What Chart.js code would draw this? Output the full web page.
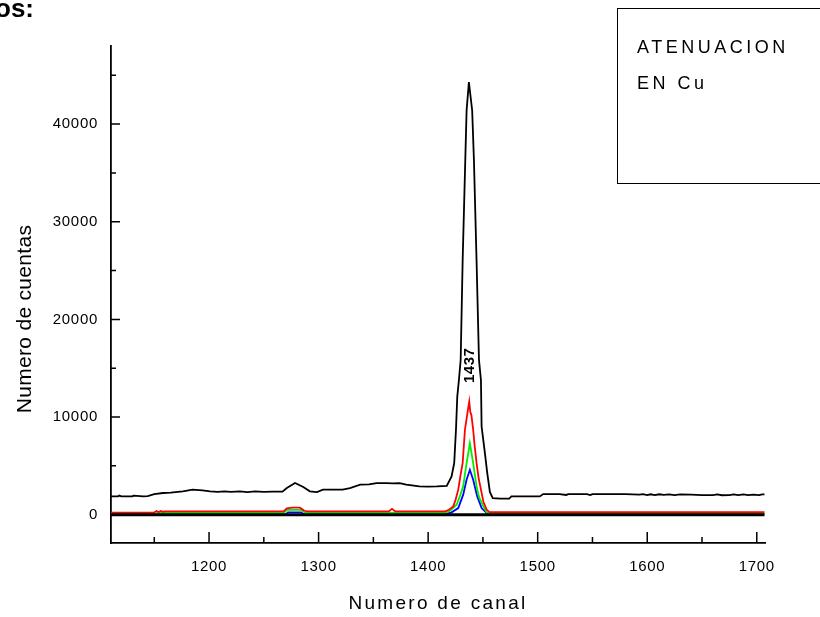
<!DOCTYPE html>
<html>
<head>
<meta charset="utf-8">
<script src="https://cdn.jsdelivr.net/npm/chart.js@4.4.1/dist/chart.umd.min.js"></script>
<style>
body { margin: 0; background: #fff; width: 820px; height: 617px; overflow: hidden; position: relative; font-family: Arial, "Liberation Sans", sans-serif; }
#chart { position: absolute; left: 0; top: 0; }
.head { position: absolute; right: 786px; top: -5px; font: bold 26px Arial, "Liberation Sans", sans-serif; line-height: 1; white-space: nowrap; }
.box { position: absolute; left: 617px; top: 8px; width: 240px; height: 174px; border: 1.5px solid #000; }
.boxtext { position: absolute; left: 637px; top: 29px; font-size: 18px; line-height: 36px; letter-spacing: 3.5px; white-space: nowrap; }
</style>
</head>
<body>
<canvas id="chart" width="820" height="617"></canvas>
<div class="head">os:</div>
<div class="box"></div>
<div class="boxtext">ATENUACION<br>EN Cu</div>
<script>
// spectra (channel, counts)
const blackCh = [1110, 1117, 1118, 1120, 1130, 1131, 1140, 1144, 1150, 1158, 1165, 1176, 1185, 1194, 1201, 1208, 1214, 1220, 1228, 1235, 1242, 1250, 1258, 1267, 1271, 1278.5, 1286, 1292, 1298.5, 1304, 1314, 1322, 1328.6, 1338, 1346, 1353, 1362, 1368, 1374, 1380, 1392, 1400, 1408, 1417, 1421.4, 1423.8, 1425.4, 1426.6, 1428.1, 1429.7, 1431.5, 1433.9, 1435.1, 1437.2, 1440.2, 1441.8, 1444.2, 1446.4, 1448.2, 1448.8, 1451.8, 1453.9, 1456.4, 1459, 1466, 1474, 1476, 1490, 1502, 1505, 1520, 1526, 1528, 1545, 1548, 1550, 1580, 1593, 1596, 1600, 1603, 1607, 1611, 1615, 1620, 1625, 1630, 1640, 1650, 1660, 1664, 1668, 1675, 1679, 1683, 1688, 1692, 1697, 1702, 1705, 1707];
const blackCounts = [1870, 1880, 1960, 1870, 1880, 1950, 1880, 1900, 2115, 2220, 2250, 2390, 2560, 2490, 2380, 2330, 2390, 2340, 2380, 2320, 2390, 2330, 2370, 2360, 2730, 3240, 2830, 2390, 2320, 2560, 2560, 2560, 2730, 3070, 3100, 3240, 3240, 3200, 3240, 3070, 2900, 2880, 2900, 2950, 3920, 5290, 8700, 12100, 13800, 15860, 26000, 36300, 41400, 44300, 41400, 36300, 26000, 15860, 13800, 9030, 6340, 4300, 2300, 1700, 1640, 1650, 1870, 1880, 1870, 2110, 2110, 2020, 2110, 2110, 2000, 2110, 2110, 2050, 2110, 2000, 2090, 2000, 2090, 2030, 2080, 2000, 2070, 2050, 2000, 2000, 2070, 1990, 2000, 2070, 2000, 2070, 2000, 2060, 2000, 2080, 2090];

const redCh = [1110, 1150, 1152, 1154, 1156, 1158, 1160, 1268, 1271, 1276, 1283, 1287, 1290, 1364, 1367, 1370, 1410, 1415.3, 1419, 1422.9, 1425, 1427.5, 1429.5, 1431.5, 1433.6, 1436, 1437.5, 1438.5, 1439.5, 1441.1, 1442.5, 1444.2, 1446, 1448.2, 1450.5, 1453.4, 1456, 1707];
const redCounts = [220, 220, 380, 280, 380, 300, 330, 330, 650, 720, 720, 400, 330, 330, 600, 330, 330, 340, 500, 850, 1500, 2560, 4000, 5290, 8700, 10500, 11590, 10500, 10200, 8700, 7000, 5300, 3800, 2560, 1300, 510, 260, 260];

const greenCh = [1110, 1151, 1153, 1268, 1271, 1284, 1288, 1415, 1419.9, 1426, 1429, 1432, 1435.1, 1438.1, 1441.1, 1444.2, 1446.5, 1449.7, 1453.4, 1456, 1707];
const greenCounts = [60, 60, 170, 170, 500, 500, 180, 200, 410, 1020, 1900, 2900, 5290, 7330, 5290, 2900, 1800, 1000, 240, 110, 110];

const blueCh = [1110, 1270, 1272, 1284, 1287, 1415, 1421.4, 1427.5, 1432, 1435.1, 1438.1, 1441.1, 1444.8, 1448.8, 1453.4, 1456, 1707];
const blueCounts = [20, 20, 240, 240, 20, 30, 240, 680, 2050, 3580, 4600, 3580, 1870, 680, 170, 30, 30];

const zeroCh = [1110, 1707];
const zeroCounts = [0, 0];

// axis ticks
const xMajorTicks = [1200, 1300, 1400, 1500, 1600, 1700];
const xMinorTicks = [1150, 1250, 1350, 1450, 1550, 1650];
const yMajorTicks = [0, 10000, 20000, 30000, 40000];
const yMinorTicks = [5000, 15000, 25000, 35000, 45000];

const peakLabel = '1437';
const peakLabelCh = 1437;
const peakLabelCounts = 15300;

const xTitle = 'Numero de canal';
const yTitle = 'Numero de cuentas';

function points(xs, ys) {
    return xs.map((v, i) => ({ x: v, y: ys[i] }));
}

function series(xs, ys, color, width) {
    return {
        data: points(xs, ys),
        borderColor: color,
        borderWidth: width,
        pointRadius: 0,
        tension: 0,
        fill: false,
    };
}

const extras = {
    id: 'extras',
    beforeUpdate(chart) {
        chart.ctx.letterSpacing = '0.7px';
    },
    beforeDraw(chart) {
        chart.ctx.letterSpacing = '0.7px';
    },
    afterDraw(chart) {
        const { ctx, chartArea, scales: { x, y } } = chart;
        ctx.save();
        ctx.strokeStyle = '#000';
        ctx.lineWidth = 1.5;
        ctx.beginPath();
        // inward tick marks
        xMajorTicks.forEach(v => {
            const px = x.getPixelForValue(v);
            ctx.moveTo(px, chartArea.bottom);
            ctx.lineTo(px, chartArea.bottom - 11);
        });
        xMinorTicks.forEach(v => {
            const px = x.getPixelForValue(v);
            ctx.moveTo(px, chartArea.bottom);
            ctx.lineTo(px, chartArea.bottom - 6);
        });
        yMajorTicks.forEach(v => {
            const py = y.getPixelForValue(v);
            ctx.moveTo(chartArea.left, py);
            ctx.lineTo(chartArea.left + 9, py);
        });
        yMinorTicks.forEach(v => {
            const py = y.getPixelForValue(v);
            ctx.moveTo(chartArea.left, py);
            ctx.lineTo(chartArea.left + 5, py);
        });
        ctx.stroke();

        // peak label, rotated
        ctx.fillStyle = '#000';
        ctx.font = 'bold 15px Arial, "Liberation Sans", sans-serif';
        ctx.letterSpacing = '0.5px';
        ctx.textAlign = 'center';
        ctx.textBaseline = 'middle';
        ctx.translate(x.getPixelForValue(peakLabelCh) + 1, y.getPixelForValue(peakLabelCounts));
        ctx.rotate(-Math.PI / 2);
        ctx.fillText(peakLabel, 0, 0);
        ctx.restore();

        // y axis title
        ctx.save();
        ctx.fillStyle = '#000';
        ctx.font = '21px Arial, "Liberation Sans", sans-serif';
        ctx.letterSpacing = '0.3px';
        ctx.textAlign = 'center';
        ctx.textBaseline = 'alphabetic';
        ctx.translate(31, 319);
        ctx.rotate(-Math.PI / 2);
        ctx.fillText(yTitle, 0, 0);
        ctx.restore();

        // x axis title (letter spaced)
        ctx.save();
        ctx.fillStyle = '#000';
        ctx.font = '19px Arial, "Liberation Sans", sans-serif';
        ctx.letterSpacing = '2.3px';
        ctx.textAlign = 'center';
        ctx.textBaseline = 'alphabetic';
        ctx.fillText(xTitle, (chartArea.left + chartArea.right) / 2, 609);
        ctx.restore();
    }
};

new Chart(document.getElementById('chart'), {
    type: 'line',
    data: {
        datasets: [
            series(zeroCh, zeroCounts, '#000000', 3),
            series(redCh, redCounts, '#ff0000', 1.8),
            series(greenCh, greenCounts, '#00ee00', 1.8),
            series(blueCh, blueCounts, '#0000ff', 1.8),
            series(blackCh, blackCounts, '#000000', 1.8),
        ],
    },
    options: {
        responsive: false,
        animation: false,
        layout: { padding: { left: 0, top: 46, right: 55, bottom: 0 } },
        plugins: {
            legend: { display: false },
            tooltip: { enabled: false },
        },
        scales: {
            x: {
                type: 'linear',
                min: 1110.5,
                max: 1707.5,
                grid: { display: false, drawTicks: false, tickLength: 0 },
                border: { display: true, color: '#000', width: 1.8 },
                ticks: {
                    padding: 15,
                    color: '#000',
                    font: { family: 'Arial, "Liberation Sans", sans-serif', size: 15 },
                    maxRotation: 0,
                    autoSkip: false,
                    callback: v => String(v),
                },
                afterBuildTicks(scale) { scale.ticks = xMajorTicks.map(v => ({ value: v })); },
                afterFit(scale) { scale.height = 74; },
            },
            y: {
                min: -2900,
                max: 48000,
                grid: { display: false, drawTicks: false, tickLength: 0 },
                border: { display: true, color: '#000', width: 1.8 },
                ticks: {
                    padding: 13,
                    color: '#000',
                    font: { family: 'Arial, "Liberation Sans", sans-serif', size: 15 },
                    autoSkip: false,
                    callback: v => String(v),
                },
                afterBuildTicks(scale) { scale.ticks = yMajorTicks.map(v => ({ value: v })); },
                afterFit(scale) { scale.width = 111; },
            },
        },
    },
    plugins: [extras],
});
</script>
</body>
</html>
